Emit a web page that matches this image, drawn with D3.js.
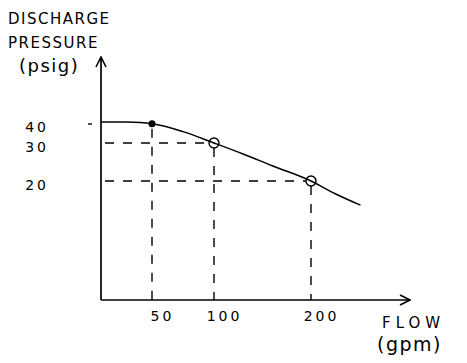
<!DOCTYPE html>
<html>
<head>
<meta charset="utf-8">
<script src="https://cdn.jsdelivr.net/npm/d3@7"></script>
<style>
  body { margin: 0; background: #fff; }
  svg { display: block; }
  .lbl { font-family: "DejaVu Sans", sans-serif; font-weight: 400; fill: #000; }
  .tick text { font-family: "DejaVu Sans", sans-serif; font-weight: 400; font-size: 14px; fill: #000; letter-spacing: 3px; }
</style>
</head>
<body>
<div class="sketch"></div>
<script>
// pump curve sketch: discharge pressure vs flow
const flowTicks = [50, 100, 200];
const pressureTicks = [20, 30, 40];

const curveFlow = [0, 25, 50, 75, 100, 130, 160, 200, 225, 250];
const curvePressure = [40.5, 40.4, 39.6, 35.7, 30, 27.1, 24, 20, 16.5, 13.5];

const pointFlow = [50, 100, 200];
const pointPressure = [39.6, 30, 20];

const yTitle = ["DISCHARGE", "PRESSURE", "(psig)"];
const xTitle = ["FLOW", "(gpm)"];

const renderSketch = () => {
  const svgWidth = 467;
  const svgHeight = 363;
  const svg = d3
    .select(".sketch")
    .append("svg")
    .attr("width", svgWidth)
    .attr("height", svgHeight);

  // the hand drawn axes are not to scale, so piecewise scales
  const xScale = d3
    .scaleLinear()
    .domain([0, 50, 100, 200, 300])
    .range([101, 152, 214, 311, 410]);
  const yScale = d3
    .scaleLinear()
    .domain([-12, 20, 30, 40, 70])
    .range([300, 181, 143, 123, 57]);

  svg
    .append("defs")
    .append("marker")
    .attr("id", "arrow")
    .attr("viewBox", "0 0 12 12")
    .attr("refX", 11)
    .attr("refY", 6)
    .attr("markerWidth", 12)
    .attr("markerHeight", 12)
    .attr("markerUnits", "userSpaceOnUse")
    .attr("orient", "auto")
    .append("path")
    .attr("d", "M1,1 L11,6 L1,11")
    .attr("fill", "none")
    .attr("stroke", "#000")
    .attr("stroke-width", 1.6);

  // axis lines
  svg
    .append("line")
    .attr("x1", xScale(0))
    .attr("y1", yScale(-12))
    .attr("x2", xScale(0))
    .attr("y2", yScale(70))
    .attr("stroke", "#000")
    .attr("stroke-width", 1.7)
    .attr("marker-end", "url(#arrow)");
  svg
    .append("line")
    .attr("x1", xScale(0))
    .attr("y1", yScale(-12))
    .attr("x2", xScale(300))
    .attr("y2", yScale(-12))
    .attr("stroke", "#000")
    .attr("stroke-width", 1.7)
    .attr("marker-end", "url(#arrow)");

  const yAxisG = svg
    .append("g")
    .attr("transform", `translate(${xScale(0)},0)`)
    .call(d3.axisLeft(yScale).tickValues(pressureTicks).tickSize(0).tickPadding(52));
  yAxisG.select(".domain").remove();
  yAxisG.selectAll(".tick text").attr("dy", "0.6em").attr("font-size", 15);

  const xAxisG = svg
    .append("g")
    .attr("transform", `translate(0,${yScale(-12)})`)
    .call(d3.axisBottom(xScale).tickValues(flowTicks).tickSize(0).tickPadding(11));
  xAxisG.select(".domain").remove();
  xAxisG.selectAll(".tick text").attr("dx", 10);

  // little dash next to 40
  svg
    .append("line")
    .attr("x1", xScale(0) - 13)
    .attr("x2", xScale(0) - 9)
    .attr("y1", yScale(40) + 1)
    .attr("y2", yScale(40) + 1)
    .attr("stroke", "#000")
    .attr("stroke-width", 1.4);

  const points = pointFlow.map((f, i) => ({ flow: f, pressure: pointPressure[i] }));

  // dashed guides
  const guides = svg.append("g")
    .attr("stroke", "#000")
    .attr("stroke-width", 1.4)
    .attr("stroke-dasharray", "9,9");
  guides
    .selectAll(".vguide")
    .data(points)
    .enter()
    .append("line")
    .attr("x1", (d) => xScale(d.flow))
    .attr("x2", (d) => xScale(d.flow))
    .attr("y1", (d) => yScale(d.pressure) + 5)
    .attr("y2", yScale(-12));
  guides
    .selectAll(".hguide")
    .data(points.slice(1))
    .enter()
    .append("line")
    .attr("x1", xScale(0) + 4)
    .attr("x2", (d) => xScale(d.flow) - 5)
    .attr("y1", (d) => yScale(d.pressure))
    .attr("y2", (d) => yScale(d.pressure));

  // pump curve
  const curve = curveFlow.map((f, i) => ({ flow: f, pressure: curvePressure[i] }));
  const line = d3
    .line()
    .x((d) => xScale(d.flow))
    .y((d) => yScale(d.pressure))
    .curve(d3.curveMonotoneX);
  svg
    .append("path")
    .attr("d", line(curve))
    .attr("fill", "none")
    .attr("stroke", "#000")
    .attr("stroke-width", 1.5);

  svg
    .selectAll("circle")
    .data(points)
    .enter()
    .append("circle")
    .attr("cx", (d) => xScale(d.flow))
    .attr("cy", (d) => yScale(d.pressure))
    .attr("r", (d, i) => (i === 0 ? 2.8 : 5))
    .attr("fill", (d, i) => (i === 0 ? "#000" : "none"))
    .attr("stroke", "#000")
    .attr("stroke-width", 1.4);

  // titles
  svg
    .append("g")
    .selectAll("text")
    .data(yTitle)
    .enter()
    .append("text")
    .attr("class", "lbl")
    .attr("x", (d, i) => (i === 2 ? 19 : 8))
    .attr("y", (d, i) => 24 + i * 24)
    .attr("font-size", (d, i) => (i === 2 ? 18 : 15))
    .attr("letter-spacing", (d, i) => (i === 2 ? 1.5 : 1.5))
    .text((d) => d);

  svg
    .append("g")
    .selectAll("text")
    .data(xTitle)
    .enter()
    .append("text")
    .attr("class", "lbl")
    .attr("x", (d, i) => (i === 0 ? 382 : 377))
    .attr("y", (d, i) => 328 + i * 23)
    .attr("font-size", (d, i) => (i === 0 ? 15 : 19))
    .attr("letter-spacing", (d, i) => (i === 0 ? 5 : 1.5))
    .text((d) => d);
};

renderSketch();
</script>
</body>
</html>
